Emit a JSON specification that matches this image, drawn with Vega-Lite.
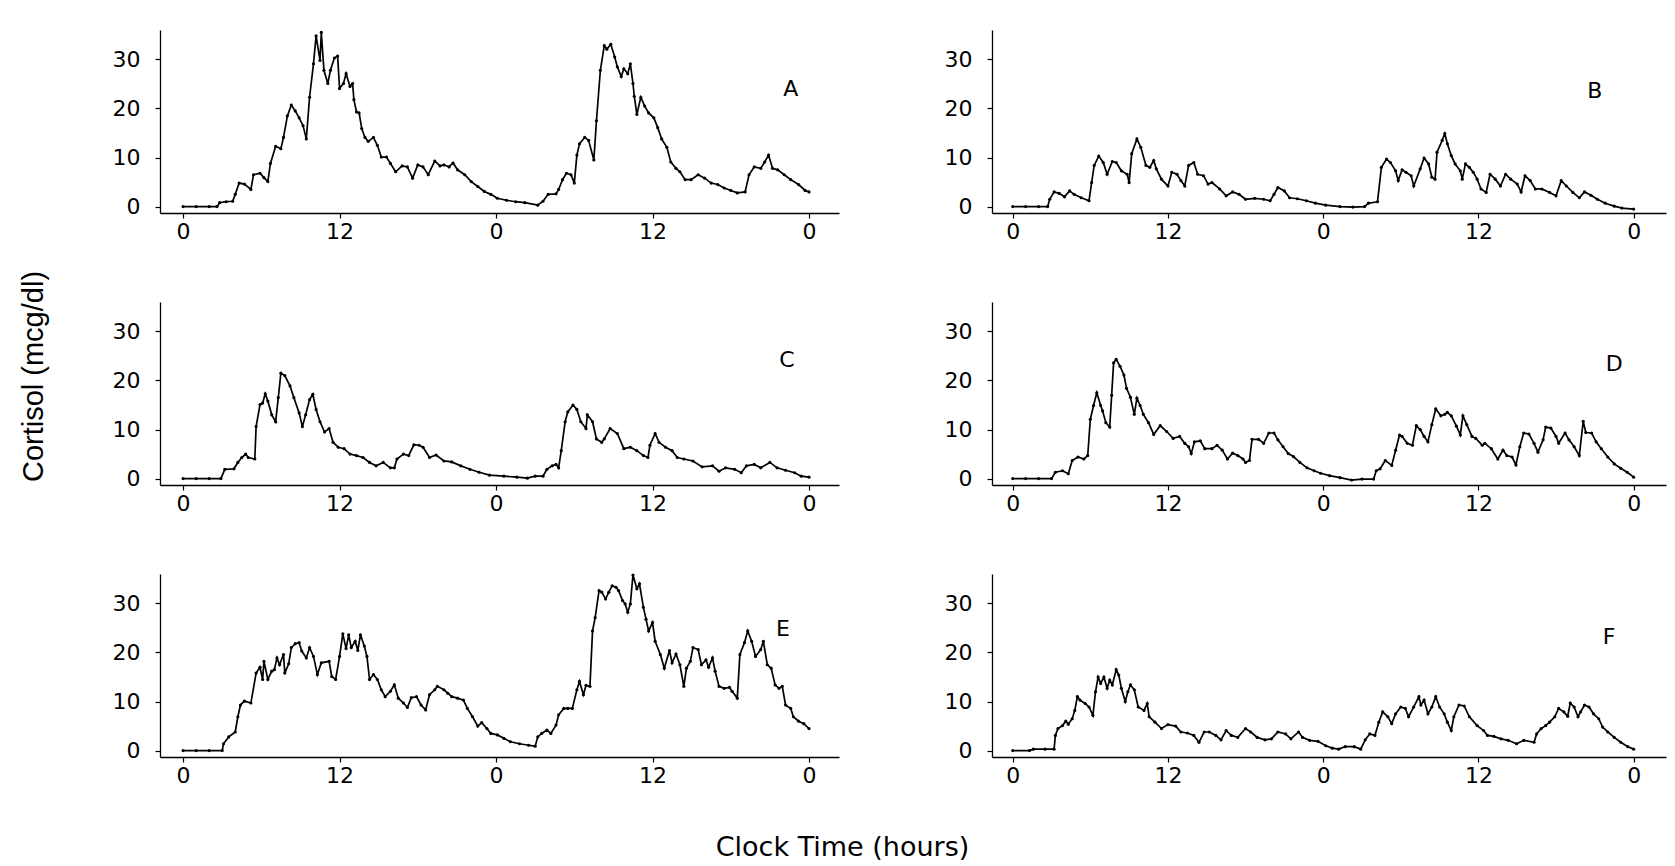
{
  "$schema": "https://vega.github.io/schema/vega-lite/v6.json",
  "background": "white",
  "padding": {"left": 19, "top": 29, "right": 5, "bottom": 5},
  "config": {
    "view": {"stroke": null},
    "font": "DejaVu Sans",
    "axis": {"domainColor": "black", "domainWidth": 1.3, "tickColor": "black", "tickWidth": 1.2, "labelColor": "black", "grid": false, "labelFont": "DejaVu Sans", "labelFontSize": 22, "tickSize": 5},
    "axisY": {"labelPadding": 15},
    "axisX": {"labelPadding": 3},
    "line": {"color": "black", "strokeWidth": 1.7},
    "text": {"font": "DejaVu Sans", "fontSize": 22, "color": "black"}
  },
  "title": {"text": "Clock Time (hours)", "orient": "bottom", "anchor": "middle", "offset": 49, "fontSize": 27, "fontWeight": "normal", "font": "DejaVu Sans", "color": "black"},
  "datasets": {
    "A": [{"t":0,"c":0},{"t":1,"c":0},{"t":2,"c":0},{"t":2.6,"c":0},{"t":2.8,"c":0.8},{"t":3.3,"c":1.0},{"t":3.8,"c":1.1},{"t":4.0,"c":2.5},{"t":4.3,"c":4.8},{"t":4.7,"c":4.6},{"t":5.2,"c":3.5},{"t":5.4,"c":6.5},{"t":5.9,"c":6.8},{"t":6.2,"c":5.9},{"t":6.5,"c":5.1},{"t":6.7,"c":8.8},{"t":7.1,"c":12.3},{"t":7.5,"c":11.8},{"t":7.7,"c":14.1},{"t":8.0,"c":18.5},{"t":8.3,"c":20.7},{"t":8.6,"c":19.5},{"t":8.9,"c":18.1},{"t":9.2,"c":16.5},{"t":9.45,"c":13.8},{"t":9.7,"c":22.3},{"t":10.0,"c":29.1},{"t":10.2,"c":34.8},{"t":10.5,"c":29.8},{"t":10.6,"c":35.5},{"t":10.8,"c":27.8},{"t":11.1,"c":25.1},{"t":11.3,"c":27.8},{"t":11.6,"c":30.3},{"t":11.85,"c":30.7},{"t":12.0,"c":24.1},{"t":12.3,"c":25.1},{"t":12.5,"c":27.1},{"t":12.8,"c":24.5},{"t":13.0,"c":25.1},{"t":13.1,"c":21.8},{"t":13.3,"c":19.3},{"t":13.5,"c":19.1},{"t":13.7,"c":15.9},{"t":13.95,"c":14.1},{"t":14.2,"c":13.3},{"t":14.6,"c":14.1},{"t":14.9,"c":12.5},{"t":15.2,"c":10.1},{"t":15.6,"c":10.1},{"t":15.9,"c":8.8},{"t":16.3,"c":7.1},{"t":16.8,"c":8.3},{"t":17.2,"c":8.1},{"t":17.6,"c":5.8},{"t":18.0,"c":8.5},{"t":18.4,"c":8.1},{"t":18.8,"c":6.5},{"t":19.3,"c":9.3},{"t":19.7,"c":8.3},{"t":20.0,"c":8.5},{"t":20.4,"c":8.1},{"t":20.7,"c":8.9},{"t":21.05,"c":7.5},{"t":21.6,"c":6.5},{"t":22.1,"c":5.1},{"t":22.6,"c":4.1},{"t":23.1,"c":3.1},{"t":23.6,"c":2.5},{"t":24.1,"c":1.7},{"t":24.8,"c":1.3},{"t":25.5,"c":1.0},{"t":26.2,"c":0.8},{"t":27.2,"c":0.3},{"t":27.6,"c":1.1},{"t":28.0,"c":2.5},{"t":28.6,"c":2.6},{"t":28.8,"c":3.5},{"t":29.1,"c":5.5},{"t":29.4,"c":6.8},{"t":29.75,"c":6.5},{"t":30.0,"c":4.8},{"t":30.2,"c":10.5},{"t":30.4,"c":12.8},{"t":30.8,"c":14.1},{"t":31.1,"c":13.5},{"t":31.5,"c":9.5},{"t":31.7,"c":17.5},{"t":32.0,"c":27.8},{"t":32.3,"c":32.8},{"t":32.5,"c":32.1},{"t":32.8,"c":33.1},{"t":33.1,"c":30.5},{"t":33.3,"c":28.5},{"t":33.6,"c":26.5},{"t":33.8,"c":28.1},{"t":34.1,"c":27.1},{"t":34.3,"c":29.1},{"t":34.5,"c":25.1},{"t":34.6,"c":22.5},{"t":34.8,"c":18.8},{"t":35.1,"c":22.3},{"t":35.4,"c":20.5},{"t":35.7,"c":19.1},{"t":36.1,"c":18.1},{"t":36.4,"c":16.1},{"t":36.7,"c":13.8},{"t":37.1,"c":12.1},{"t":37.4,"c":9.1},{"t":37.8,"c":7.8},{"t":38.1,"c":7.1},{"t":38.5,"c":5.5},{"t":38.96,"c":5.5},{"t":39.5,"c":6.5},{"t":40.0,"c":5.8},{"t":40.5,"c":4.8},{"t":41.0,"c":4.5},{"t":41.5,"c":3.8},{"t":42.0,"c":3.3},{"t":42.5,"c":2.8},{"t":43.1,"c":3.0},{"t":43.4,"c":6.5},{"t":43.8,"c":8.1},{"t":44.3,"c":7.8},{"t":44.6,"c":9.1},{"t":44.9,"c":10.5},{"t":45.2,"c":7.8},{"t":45.6,"c":7.5},{"t":46.1,"c":6.5},{"t":46.6,"c":5.5},{"t":47.2,"c":4.5},{"t":47.7,"c":3.3},{"t":48,"c":3.0}],
    "B": [{"t":0,"c":0},{"t":1,"c":0},{"t":2,"c":0},{"t":2.7,"c":0},{"t":2.86,"c":1.5},{"t":3.2,"c":3.0},{"t":3.6,"c":2.7},{"t":4.0,"c":2.0},{"t":4.4,"c":3.2},{"t":4.75,"c":2.5},{"t":5.3,"c":1.8},{"t":5.9,"c":1.2},{"t":6.1,"c":4.9},{"t":6.3,"c":8.4},{"t":6.65,"c":10.3},{"t":7.0,"c":9.0},{"t":7.3,"c":6.6},{"t":7.7,"c":9.2},{"t":8.0,"c":9.0},{"t":8.4,"c":7.3},{"t":8.85,"c":6.6},{"t":9.0,"c":4.9},{"t":9.2,"c":10.8},{"t":9.6,"c":13.8},{"t":9.9,"c":12.1},{"t":10.3,"c":8.4},{"t":10.6,"c":8.0},{"t":10.9,"c":9.4},{"t":11.1,"c":7.7},{"t":11.5,"c":5.6},{"t":12.0,"c":4.2},{"t":12.3,"c":7.0},{"t":12.7,"c":6.6},{"t":13.0,"c":5.3},{"t":13.3,"c":4.2},{"t":13.6,"c":8.4},{"t":14.0,"c":9.0},{"t":14.3,"c":6.6},{"t":14.75,"c":6.3},{"t":15.1,"c":4.6},{"t":15.4,"c":4.9},{"t":16.0,"c":3.6},{"t":16.5,"c":2.2},{"t":17.0,"c":3.0},{"t":17.5,"c":2.5},{"t":18.0,"c":1.5},{"t":18.7,"c":1.7},{"t":19.4,"c":1.5},{"t":19.9,"c":1.2},{"t":20.2,"c":2.5},{"t":20.5,"c":3.9},{"t":21.0,"c":3.2},{"t":21.4,"c":1.8},{"t":22.0,"c":1.6},{"t":22.7,"c":1.2},{"t":23.4,"c":0.7},{"t":24.2,"c":0.3},{"t":25.3,"c":0},{"t":26.3,"c":-0.1},{"t":27.2,"c":0},{"t":27.5,"c":0.7},{"t":28.2,"c":1.0},{"t":28.5,"c":8.0},{"t":28.9,"c":9.7},{"t":29.2,"c":9.0},{"t":29.6,"c":7.3},{"t":29.8,"c":5.3},{"t":30.1,"c":7.5},{"t":30.4,"c":7.0},{"t":30.8,"c":6.3},{"t":31.0,"c":4.2},{"t":31.5,"c":7.7},{"t":31.8,"c":9.9},{"t":32.15,"c":8.7},{"t":32.4,"c":6.0},{"t":32.65,"c":5.6},{"t":32.8,"c":11.1},{"t":33.2,"c":13.5},{"t":33.4,"c":14.9},{"t":33.6,"c":12.8},{"t":33.9,"c":10.4},{"t":34.2,"c":8.7},{"t":34.6,"c":7.3},{"t":34.75,"c":5.6},{"t":35.0,"c":8.7},{"t":35.3,"c":8.0},{"t":35.6,"c":7.0},{"t":35.9,"c":5.6},{"t":36.2,"c":3.6},{"t":36.6,"c":2.9},{"t":36.9,"c":6.6},{"t":37.3,"c":5.6},{"t":37.7,"c":4.2},{"t":38.1,"c":6.6},{"t":38.5,"c":5.6},{"t":39.0,"c":4.6},{"t":39.3,"c":3.0},{"t":39.6,"c":6.3},{"t":40.0,"c":5.3},{"t":40.4,"c":3.6},{"t":40.9,"c":3.6},{"t":41.5,"c":2.9},{"t":42.0,"c":2.2},{"t":42.4,"c":5.3},{"t":42.8,"c":4.2},{"t":43.3,"c":2.9},{"t":43.8,"c":1.8},{"t":44.2,"c":3.0},{"t":44.7,"c":2.3},{"t":45.2,"c":1.5},{"t":45.8,"c":0.7},{"t":46.5,"c":0.1},{"t":47.1,"c":-0.3},{"t":48,"c":-0.5}],
    "C": [{"t":0,"c":0},{"t":1,"c":0},{"t":2,"c":0},{"t":2.9,"c":0},{"t":3.2,"c":1.9},{"t":3.9,"c":2.0},{"t":4.2,"c":3.3},{"t":4.5,"c":4.3},{"t":4.8,"c":5.0},{"t":5.0,"c":4.3},{"t":5.5,"c":4.0},{"t":5.6,"c":10.6},{"t":5.9,"c":15.1},{"t":6.1,"c":15.4},{"t":6.3,"c":17.3},{"t":6.5,"c":15.8},{"t":6.8,"c":13.0},{"t":7.1,"c":11.6},{"t":7.3,"c":16.5},{"t":7.5,"c":21.5},{"t":7.8,"c":21.0},{"t":8.2,"c":18.9},{"t":8.5,"c":16.5},{"t":8.9,"c":13.4},{"t":9.15,"c":10.6},{"t":9.4,"c":13.0},{"t":9.7,"c":16.1},{"t":9.95,"c":17.2},{"t":10.2,"c":14.1},{"t":10.5,"c":11.6},{"t":10.85,"c":9.5},{"t":11.2,"c":10.2},{"t":11.5,"c":7.4},{"t":11.9,"c":6.4},{"t":12.35,"c":6.1},{"t":12.8,"c":5.0},{"t":13.3,"c":4.7},{"t":13.8,"c":4.3},{"t":14.3,"c":3.3},{"t":14.8,"c":2.6},{"t":15.35,"c":3.3},{"t":15.9,"c":2.2},{"t":16.2,"c":2.2},{"t":16.4,"c":4.0},{"t":16.9,"c":5.0},{"t":17.3,"c":4.7},{"t":17.7,"c":6.9},{"t":18.1,"c":6.8},{"t":18.4,"c":6.4},{"t":18.9,"c":4.3},{"t":19.4,"c":4.8},{"t":20.0,"c":3.6},{"t":20.6,"c":3.4},{"t":21.3,"c":2.6},{"t":22.0,"c":1.9},{"t":22.7,"c":1.3},{"t":23.5,"c":0.7},{"t":24.6,"c":0.5},{"t":25.6,"c":0.3},{"t":26.4,"c":0.1},{"t":27.0,"c":0.5},{"t":27.6,"c":0.5},{"t":27.9,"c":1.9},{"t":28.3,"c":2.6},{"t":28.6,"c":2.9},{"t":28.8,"c":2.2},{"t":29.0,"c":5.7},{"t":29.3,"c":11.6},{"t":29.5,"c":13.6},{"t":29.9,"c":15.0},{"t":30.2,"c":14.1},{"t":30.5,"c":11.6},{"t":30.9,"c":10.2},{"t":31.0,"c":13.0},{"t":31.4,"c":11.6},{"t":31.7,"c":8.1},{"t":32.1,"c":7.4},{"t":32.3,"c":8.1},{"t":32.75,"c":10.2},{"t":33.3,"c":9.2},{"t":33.8,"c":6.1},{"t":34.3,"c":6.4},{"t":34.8,"c":5.7},{"t":35.3,"c":4.7},{"t":35.65,"c":4.3},{"t":35.8,"c":6.8},{"t":36.2,"c":9.2},{"t":36.5,"c":7.4},{"t":37.0,"c":6.4},{"t":37.5,"c":5.7},{"t":37.9,"c":4.3},{"t":38.4,"c":4.0},{"t":39.1,"c":3.6},{"t":39.8,"c":2.4},{"t":40.6,"c":2.6},{"t":41.1,"c":1.5},{"t":41.6,"c":2.2},{"t":42.3,"c":1.9},{"t":42.8,"c":1.2},{"t":43.2,"c":2.6},{"t":43.8,"c":2.9},{"t":44.3,"c":2.2},{"t":45.0,"c":3.3},{"t":45.55,"c":2.2},{"t":46.2,"c":1.7},{"t":46.9,"c":1.2},{"t":47.4,"c":0.5},{"t":48,"c":0.3}],
    "D": [{"t":0,"c":0},{"t":1,"c":0},{"t":2,"c":0},{"t":3.0,"c":0},{"t":3.3,"c":1.3},{"t":3.85,"c":1.6},{"t":4.3,"c":1.0},{"t":4.6,"c":3.7},{"t":5.05,"c":4.4},{"t":5.5,"c":4.0},{"t":5.8,"c":4.7},{"t":6.0,"c":12.1},{"t":6.25,"c":14.9},{"t":6.5,"c":17.5},{"t":6.8,"c":14.9},{"t":6.95,"c":13.8},{"t":7.2,"c":11.4},{"t":7.5,"c":10.5},{"t":7.65,"c":17.0},{"t":7.8,"c":23.6},{"t":8.0,"c":24.3},{"t":8.3,"c":22.9},{"t":8.6,"c":21.1},{"t":8.8,"c":18.4},{"t":9.1,"c":16.6},{"t":9.4,"c":13.1},{"t":9.6,"c":16.4},{"t":9.85,"c":14.9},{"t":10.1,"c":13.1},{"t":10.5,"c":11.4},{"t":10.9,"c":9.0},{"t":11.4,"c":10.8},{"t":11.9,"c":9.6},{"t":12.4,"c":8.2},{"t":12.9,"c":8.6},{"t":13.3,"c":7.2},{"t":13.6,"c":6.5},{"t":13.8,"c":5.1},{"t":14.05,"c":7.5},{"t":14.5,"c":7.7},{"t":14.85,"c":6.1},{"t":15.4,"c":6.1},{"t":15.8,"c":6.8},{"t":16.2,"c":5.8},{"t":16.6,"c":4.0},{"t":17.0,"c":5.2},{"t":17.4,"c":4.7},{"t":17.8,"c":4.0},{"t":18.0,"c":3.3},{"t":18.3,"c":3.7},{"t":18.5,"c":8.0},{"t":19.0,"c":8.0},{"t":19.4,"c":7.2},{"t":19.8,"c":9.3},{"t":20.2,"c":9.3},{"t":20.5,"c":7.9},{"t":20.9,"c":6.5},{"t":21.3,"c":5.1},{"t":21.7,"c":4.5},{"t":22.2,"c":3.3},{"t":22.75,"c":2.2},{"t":23.3,"c":1.6},{"t":23.8,"c":1.1},{"t":24.5,"c":0.6},{"t":25.3,"c":0.2},{"t":26.2,"c":-0.3},{"t":27.0,"c":-0.1},{"t":27.9,"c":-0.1},{"t":28.1,"c":1.6},{"t":28.4,"c":2.0},{"t":28.8,"c":3.7},{"t":29.3,"c":2.7},{"t":29.6,"c":5.8},{"t":29.9,"c":8.9},{"t":30.1,"c":8.6},{"t":30.5,"c":7.2},{"t":30.9,"c":6.8},{"t":31.2,"c":10.8},{"t":31.5,"c":10.0},{"t":31.8,"c":8.6},{"t":32.1,"c":7.5},{"t":32.4,"c":11.0},{"t":32.7,"c":14.2},{"t":33.1,"c":12.8},{"t":33.4,"c":13.1},{"t":33.6,"c":13.5},{"t":33.9,"c":12.8},{"t":34.3,"c":10.7},{"t":34.6,"c":8.9},{"t":34.8,"c":12.8},{"t":35.1,"c":11.0},{"t":35.5,"c":8.6},{"t":35.8,"c":8.2},{"t":36.3,"c":6.8},{"t":36.5,"c":7.2},{"t":37.0,"c":6.1},{"t":37.5,"c":4.0},{"t":37.9,"c":5.8},{"t":38.2,"c":4.7},{"t":38.6,"c":4.4},{"t":38.9,"c":2.8},{"t":39.2,"c":6.5},{"t":39.5,"c":9.3},{"t":39.9,"c":9.1},{"t":40.3,"c":7.2},{"t":40.6,"c":5.4},{"t":41.0,"c":7.9},{"t":41.2,"c":10.5},{"t":41.6,"c":10.3},{"t":42.0,"c":8.6},{"t":42.2,"c":7.2},{"t":42.7,"c":9.3},{"t":43.0,"c":7.9},{"t":43.4,"c":6.5},{"t":43.8,"c":4.7},{"t":44.1,"c":11.7},{"t":44.3,"c":9.4},{"t":44.75,"c":9.3},{"t":45.1,"c":7.5},{"t":45.5,"c":6.1},{"t":46.0,"c":4.4},{"t":46.5,"c":3.0},{"t":47.0,"c":2.1},{"t":47.5,"c":1.3},{"t":48,"c":0.3}],
    "E": [{"t":0,"c":0},{"t":1,"c":0},{"t":2,"c":0},{"t":3.0,"c":0},{"t":3.1,"c":1.4},{"t":3.5,"c":2.8},{"t":4.0,"c":3.8},{"t":4.2,"c":6.9},{"t":4.4,"c":9.3},{"t":4.7,"c":10.1},{"t":5.2,"c":9.7},{"t":5.6,"c":15.8},{"t":5.9,"c":17.0},{"t":6.1,"c":14.5},{"t":6.2,"c":18.2},{"t":6.5,"c":14.5},{"t":6.8,"c":16.2},{"t":7.0,"c":16.5},{"t":7.2,"c":18.9},{"t":7.4,"c":17.5},{"t":7.7,"c":19.6},{"t":7.8,"c":15.8},{"t":8.1,"c":17.7},{"t":8.3,"c":21.0},{"t":8.6,"c":21.8},{"t":8.9,"c":22.0},{"t":9.1,"c":20.3},{"t":9.45,"c":18.9},{"t":9.7,"c":21.0},{"t":10.0,"c":19.2},{"t":10.3,"c":15.5},{"t":10.6,"c":17.9},{"t":11.2,"c":18.2},{"t":11.4,"c":15.1},{"t":11.7,"c":14.5},{"t":12.0,"c":19.2},{"t":12.25,"c":23.8},{"t":12.5,"c":20.8},{"t":12.7,"c":23.6},{"t":12.9,"c":21.0},{"t":13.2,"c":22.3},{"t":13.4,"c":20.4},{"t":13.6,"c":23.6},{"t":13.9,"c":21.3},{"t":14.1,"c":19.2},{"t":14.3,"c":14.5},{"t":14.6,"c":15.5},{"t":14.9,"c":14.5},{"t":15.2,"c":12.4},{"t":15.5,"c":11.0},{"t":15.9,"c":12.1},{"t":16.2,"c":13.4},{"t":16.5,"c":10.7},{"t":16.9,"c":9.7},{"t":17.2,"c":8.8},{"t":17.5,"c":10.8},{"t":17.9,"c":11.0},{"t":18.25,"c":9.3},{"t":18.6,"c":8.3},{"t":18.9,"c":11.4},{"t":19.3,"c":12.4},{"t":19.5,"c":13.1},{"t":20.0,"c":12.4},{"t":20.3,"c":11.7},{"t":20.6,"c":11.0},{"t":21.05,"c":10.7},{"t":21.5,"c":10.3},{"t":21.8,"c":8.6},{"t":22.2,"c":6.9},{"t":22.6,"c":5.0},{"t":22.9,"c":5.7},{"t":23.3,"c":4.5},{"t":23.6,"c":3.5},{"t":24.1,"c":3.2},{"t":24.6,"c":2.5},{"t":25.1,"c":1.8},{"t":25.8,"c":1.4},{"t":26.5,"c":1.1},{"t":27.0,"c":0.9},{"t":27.2,"c":2.8},{"t":27.5,"c":3.5},{"t":27.9,"c":4.2},{"t":28.2,"c":3.5},{"t":28.6,"c":5.2},{"t":28.8,"c":7.3},{"t":29.2,"c":8.6},{"t":29.5,"c":8.6},{"t":29.85,"c":8.6},{"t":30.2,"c":12.4},{"t":30.4,"c":14.1},{"t":30.7,"c":11.4},{"t":30.9,"c":13.3},{"t":31.2,"c":13.1},{"t":31.4,"c":24.4},{"t":31.6,"c":27.1},{"t":31.9,"c":32.6},{"t":32.1,"c":32.3},{"t":32.4,"c":30.9},{"t":32.65,"c":32.3},{"t":32.9,"c":33.6},{"t":33.2,"c":33.3},{"t":33.4,"c":32.6},{"t":33.7,"c":30.6},{"t":33.9,"c":29.9},{"t":34.1,"c":28.2},{"t":34.3,"c":29.9},{"t":34.5,"c":35.8},{"t":34.8,"c":33.0},{"t":35.0,"c":34.0},{"t":35.3,"c":29.2},{"t":35.5,"c":26.8},{"t":35.7,"c":24.4},{"t":36.0,"c":26.1},{"t":36.2,"c":22.3},{"t":36.6,"c":19.6},{"t":36.9,"c":16.8},{"t":37.3,"c":20.4},{"t":37.5,"c":17.9},{"t":37.8,"c":19.7},{"t":38.1,"c":17.5},{"t":38.4,"c":13.1},{"t":38.6,"c":16.8},{"t":38.9,"c":18.2},{"t":39.1,"c":21.0},{"t":39.5,"c":20.6},{"t":39.75,"c":17.5},{"t":40.1,"c":18.5},{"t":40.3,"c":17.0},{"t":40.6,"c":18.9},{"t":40.8,"c":16.2},{"t":41.1,"c":13.1},{"t":41.5,"c":12.7},{"t":41.9,"c":12.9},{"t":42.1,"c":12.1},{"t":42.5,"c":10.7},{"t":42.7,"c":19.6},{"t":43.05,"c":22.0},{"t":43.3,"c":24.4},{"t":43.6,"c":22.3},{"t":43.9,"c":19.2},{"t":44.3,"c":20.6},{"t":44.5,"c":22.3},{"t":44.8,"c":17.5},{"t":45.1,"c":16.8},{"t":45.4,"c":13.4},{"t":45.7,"c":12.7},{"t":45.95,"c":13.1},{"t":46.2,"c":9.3},{"t":46.6,"c":8.6},{"t":46.8,"c":6.9},{"t":47.2,"c":6.0},{"t":47.6,"c":5.5},{"t":48,"c":4.5}],
    "F": [{"t":0,"c":0},{"t":1.3,"c":0},{"t":1.6,"c":0.3},{"t":2.5,"c":0.3},{"t":3.2,"c":0.3},{"t":3.3,"c":3.1},{"t":3.5,"c":4.5},{"t":3.85,"c":5.1},{"t":4.1,"c":6.0},{"t":4.3,"c":5.4},{"t":4.6,"c":6.5},{"t":4.8,"c":8.2},{"t":5.0,"c":11.0},{"t":5.2,"c":10.3},{"t":5.6,"c":9.6},{"t":5.9,"c":8.9},{"t":6.2,"c":7.2},{"t":6.4,"c":12.0},{"t":6.6,"c":15.0},{"t":6.8,"c":13.7},{"t":7.05,"c":15.0},{"t":7.3,"c":12.7},{"t":7.5,"c":14.4},{"t":7.7,"c":13.4},{"t":8.0,"c":16.5},{"t":8.2,"c":15.4},{"t":8.4,"c":12.7},{"t":8.7,"c":10.0},{"t":8.9,"c":12.0},{"t":9.1,"c":13.4},{"t":9.4,"c":12.4},{"t":9.7,"c":8.9},{"t":10.15,"c":8.2},{"t":10.4,"c":9.6},{"t":10.55,"c":6.9},{"t":11.0,"c":5.8},{"t":11.5,"c":4.5},{"t":12.0,"c":5.3},{"t":12.6,"c":5.0},{"t":13.0,"c":3.8},{"t":13.5,"c":3.6},{"t":14.0,"c":3.1},{"t":14.4,"c":1.7},{"t":14.8,"c":3.8},{"t":15.2,"c":3.8},{"t":15.7,"c":3.1},{"t":16.1,"c":2.2},{"t":16.5,"c":4.1},{"t":16.9,"c":3.1},{"t":17.4,"c":2.7},{"t":18.0,"c":4.5},{"t":18.4,"c":3.8},{"t":18.9,"c":2.7},{"t":19.5,"c":2.2},{"t":20.0,"c":2.4},{"t":20.5,"c":3.8},{"t":21.1,"c":3.4},{"t":21.5,"c":2.4},{"t":22.1,"c":3.8},{"t":22.4,"c":2.7},{"t":22.95,"c":2.1},{"t":23.6,"c":1.9},{"t":24.2,"c":1.0},{"t":24.7,"c":0.5},{"t":25.2,"c":0.3},{"t":25.7,"c":0.8},{"t":26.4,"c":0.8},{"t":26.9,"c":0.3},{"t":27.25,"c":2.2},{"t":27.6,"c":3.4},{"t":28.0,"c":3.1},{"t":28.3,"c":5.8},{"t":28.6,"c":7.9},{"t":29.0,"c":6.9},{"t":29.3,"c":5.5},{"t":29.6,"c":7.5},{"t":30.0,"c":8.9},{"t":30.35,"c":8.6},{"t":30.6,"c":6.9},{"t":31.0,"c":8.9},{"t":31.4,"c":11.0},{"t":31.55,"c":9.3},{"t":31.8,"c":10.3},{"t":32.1,"c":7.5},{"t":32.4,"c":8.9},{"t":32.7,"c":11.0},{"t":33.0,"c":8.9},{"t":33.35,"c":7.5},{"t":33.6,"c":5.8},{"t":33.9,"c":4.1},{"t":34.1,"c":6.9},{"t":34.5,"c":9.3},{"t":34.9,"c":9.1},{"t":35.3,"c":6.9},{"t":35.9,"c":5.1},{"t":36.4,"c":4.1},{"t":36.7,"c":3.1},{"t":37.2,"c":2.9},{"t":37.75,"c":2.4},{"t":38.3,"c":2.1},{"t":38.95,"c":1.4},{"t":39.5,"c":2.1},{"t":40.3,"c":1.7},{"t":40.5,"c":3.4},{"t":40.85,"c":4.5},{"t":41.2,"c":5.1},{"t":41.5,"c":5.8},{"t":41.9,"c":6.9},{"t":42.2,"c":8.6},{"t":42.6,"c":7.9},{"t":42.9,"c":7.0},{"t":43.1,"c":9.7},{"t":43.4,"c":8.9},{"t":43.7,"c":6.9},{"t":43.9,"c":7.9},{"t":44.2,"c":9.3},{"t":44.55,"c":8.9},{"t":44.9,"c":7.5},{"t":45.3,"c":6.5},{"t":45.6,"c":4.8},{"t":46.0,"c":3.8},{"t":46.5,"c":2.7},{"t":47.0,"c":1.7},{"t":47.55,"c":0.8},{"t":48,"c":0.3}]
  },
  "columns": 2,
  "bounds": "flush",
  "spacing": {"row": 89, "column": 153},
  "concat": [
    {"width": 679, "height": 183, "layer": [
      {"data": {"name": "A"}, "mark": {"type": "line", "point": {"filled": true, "size": 10, "color": "black"}},
       "encoding": {"x": {"field": "t", "type": "quantitative", "scale": {"domain": [-1.77, 50.3], "nice": false}, "axis": {"title": null, "values": [0, 12, 24, 36, 48], "labelExpr": "'' + (datum.value % 24)"}},
                    "y": {"field": "c", "type": "quantitative", "scale": {"domain": [-1.3, 36.0], "nice": false}, "axis": {"title": null, "values": [0, 10, 20, 30]}}}},
      {"data": {"values": [{"t": 46.6, "c": 24.05, "label": "A"}]}, "mark": {"type": "text"},
       "encoding": {"x": {"field": "t", "type": "quantitative"}, "y": {"field": "c", "type": "quantitative"}, "text": {"field": "label"}}}
    ]},
    {"width": 674, "height": 183, "layer": [
      {"data": {"name": "B"}, "mark": {"type": "line", "point": {"filled": true, "size": 10, "color": "black"}},
       "encoding": {"x": {"field": "t", "type": "quantitative", "scale": {"domain": [-1.6, 50.5], "nice": false}, "axis": {"title": null, "values": [0, 12, 24, 36, 48], "labelExpr": "'' + (datum.value % 24)"}},
                    "y": {"field": "c", "type": "quantitative", "scale": {"domain": [-1.3, 36.0], "nice": false}, "axis": {"title": null, "values": [0, 10, 20, 30]}}}},
      {"data": {"values": [{"t": 45.0, "c": 23.6, "label": "B"}]}, "mark": {"type": "text"},
       "encoding": {"x": {"field": "t", "type": "quantitative"}, "y": {"field": "c", "type": "quantitative"}, "text": {"field": "label"}}}
    ]},
    {"width": 679, "height": 183, "layer": [
      {"data": {"name": "C"}, "mark": {"type": "line", "point": {"filled": true, "size": 10, "color": "black"}},
       "encoding": {"x": {"field": "t", "type": "quantitative", "scale": {"domain": [-1.77, 50.3], "nice": false}, "axis": {"title": null, "values": [0, 12, 24, 36, 48], "labelExpr": "'' + (datum.value % 24)"}},
                    "y": {"field": "c", "type": "quantitative", "scale": {"domain": [-1.3, 36.0], "nice": false}, "axis": {"title": "Cortisol (mcg/dl)", "values": [0, 10, 20, 30], "titleFont": "Liberation Sans", "titleFontSize": 29, "titleFontWeight": "normal", "titleColor": "black", "titleX": -112, "titleY": 74}}}},
      {"data": {"values": [{"t": 46.3, "c": 24.2, "label": "C"}]}, "mark": {"type": "text"},
       "encoding": {"x": {"field": "t", "type": "quantitative"}, "y": {"field": "c", "type": "quantitative"}, "text": {"field": "label"}}}
    ]},
    {"width": 674, "height": 183, "layer": [
      {"data": {"name": "D"}, "mark": {"type": "line", "point": {"filled": true, "size": 10, "color": "black"}},
       "encoding": {"x": {"field": "t", "type": "quantitative", "scale": {"domain": [-1.6, 50.5], "nice": false}, "axis": {"title": null, "values": [0, 12, 24, 36, 48], "labelExpr": "'' + (datum.value % 24)"}},
                    "y": {"field": "c", "type": "quantitative", "scale": {"domain": [-1.3, 36.0], "nice": false}, "axis": {"title": null, "values": [0, 10, 20, 30]}}}},
      {"data": {"values": [{"t": 46.5, "c": 23.4, "label": "D"}]}, "mark": {"type": "text"},
       "encoding": {"x": {"field": "t", "type": "quantitative"}, "y": {"field": "c", "type": "quantitative"}, "text": {"field": "label"}}}
    ]},
    {"width": 679, "height": 183, "layer": [
      {"data": {"name": "E"}, "mark": {"type": "line", "point": {"filled": true, "size": 10, "color": "black"}},
       "encoding": {"x": {"field": "t", "type": "quantitative", "scale": {"domain": [-1.77, 50.3], "nice": false}, "axis": {"title": null, "values": [0, 12, 24, 36, 48], "labelExpr": "'' + (datum.value % 24)"}},
                    "y": {"field": "c", "type": "quantitative", "scale": {"domain": [-1.3, 36.0], "nice": false}, "axis": {"title": null, "values": [0, 10, 20, 30]}}}},
      {"data": {"values": [{"t": 46.0, "c": 24.8, "label": "E"}]}, "mark": {"type": "text"},
       "encoding": {"x": {"field": "t", "type": "quantitative"}, "y": {"field": "c", "type": "quantitative"}, "text": {"field": "label"}}}
    ]},
    {"width": 674, "height": 183, "layer": [
      {"data": {"name": "F"}, "mark": {"type": "line", "point": {"filled": true, "size": 10, "color": "black"}},
       "encoding": {"x": {"field": "t", "type": "quantitative", "scale": {"domain": [-1.6, 50.5], "nice": false}, "axis": {"title": null, "values": [0, 12, 24, 36, 48], "labelExpr": "'' + (datum.value % 24)"}},
                    "y": {"field": "c", "type": "quantitative", "scale": {"domain": [-1.3, 36.0], "nice": false}, "axis": {"title": null, "values": [0, 10, 20, 30]}}}},
      {"data": {"values": [{"t": 46.1, "c": 23.2, "label": "F"}]}, "mark": {"type": "text"},
       "encoding": {"x": {"field": "t", "type": "quantitative"}, "y": {"field": "c", "type": "quantitative"}, "text": {"field": "label"}}}
    ]}
  ]
}
